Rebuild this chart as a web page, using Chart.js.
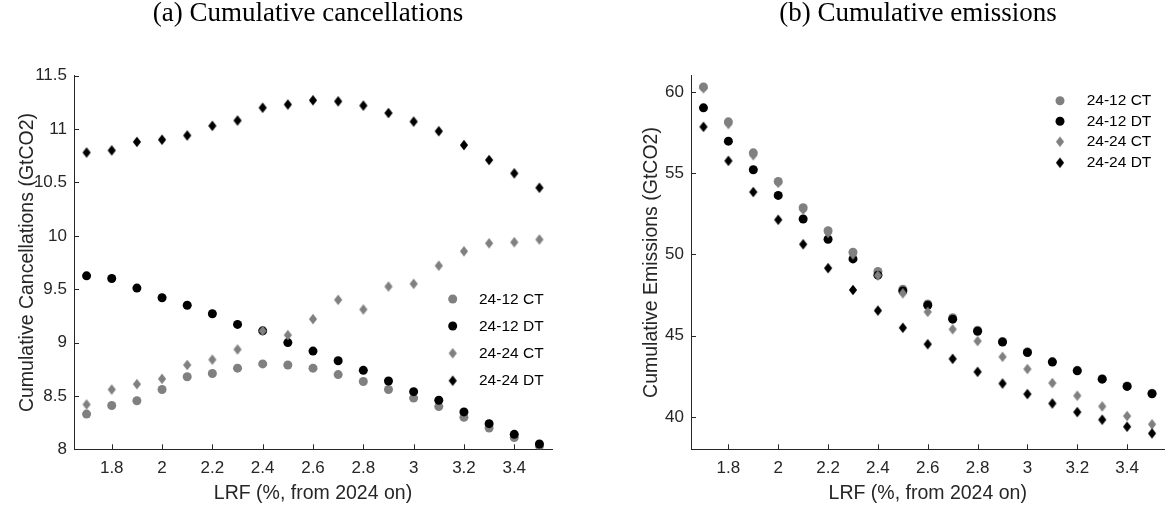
<!DOCTYPE html>
<html>
<head>
<meta charset="utf-8">
<script src="https://cdn.jsdelivr.net/npm/chart.js@4/dist/chart.umd.min.js"></script>
<style>
  body { margin: 0; background: #fff; }
  #wrap { position: relative; width: 1169px; height: 510px; }
  canvas { position: absolute; top: 0; }
</style>
</head>
<body>
<div id="wrap">
  <canvas id="left" width="620" height="510" style="left:0"></canvas>
  <canvas id="right" width="549" height="510" style="left:620px"></canvas>
</div>
<script>
// LRF values (%, from 2024 on)
const lrf = [1.7, 1.8, 1.9, 2.0, 2.1, 2.2, 2.3, 2.4, 2.5, 2.6, 2.7, 2.8, 2.9, 3.0, 3.1, 3.2, 3.3, 3.4, 3.5];
const seriesNames = ["24-12 CT", "24-12 DT", "24-24 CT", "24-24 DT"];

// (a) cumulative cancellations (GtCO2)
const cancCT12 = [8.33, 8.41, 8.455, 8.56, 8.68, 8.71, 8.76, 8.80, 8.79, 8.76, 8.70, 8.635, 8.56, 8.48, 8.40, 8.30, 8.20, 8.11, 8.03];
const cancDT12 = [9.625, 9.60, 9.51, 9.42, 9.35, 9.27, 9.17, 9.11, 9.00, 8.92, 8.83, 8.74, 8.64, 8.54, 8.46, 8.35, 8.24, 8.14, 8.05];
const cancCT24 = [8.42, 8.56, 8.61, 8.66, 8.79, 8.84, 8.935, 9.11, 9.07, 9.22, 9.40, 9.31, 9.525, 9.55, 9.72, 9.855, 9.93, 9.94, 9.965];
const cancDT24 = [10.78, 10.80, 10.88, 10.90, 10.94, 11.03, 11.08, 11.20, 11.23, 11.27, 11.26, 11.22, 11.15, 11.07, 10.98, 10.85, 10.71, 10.585, 10.45];

// (b) cumulative emissions (GtCO2)
const emisCT12 = [60.31, 58.16, 56.25, 54.49, 52.87, 51.46, 50.13, 48.95, 47.85, 46.95, 46.10, 45.33, 44.64, 44.00, 43.40, 42.86, 42.35, 41.90, 41.45];
const emisDT12 = [59.02, 56.97, 55.21, 53.63, 52.18, 50.93, 49.72, 48.72, 47.75, 46.87, 46.01, 45.27, 44.60, 43.96, 43.37, 42.83, 42.32, 41.87, 41.42];
const emisCT24 = [60.22, 58.02, 56.10, 54.40, 52.75, 51.32, 50.00, 48.70, 47.60, 46.46, 45.39, 44.66, 43.69, 42.94, 42.08, 41.30, 40.64, 40.05, 39.54];
const emisDT24 = [57.85, 55.76, 53.84, 52.13, 50.62, 49.15, 47.81, 46.54, 45.48, 44.47, 43.57, 42.77, 42.05, 41.40, 40.82, 40.29, 39.82, 39.39, 38.98];

// tick labels
const xTicks = [1.8, 2.0, 2.2, 2.4, 2.6, 2.8, 3.0, 3.2, 3.4];
const cancTicks = [8, 8.5, 9, 9.5, 10, 10.5, 11, 11.5];
const emisTicks = [40, 45, 50, 55, 60];

const GRAY = "#808080";
const BLACK = "#000000";
const AXIS = "#262626";
const SANS = "'Liberation Sans', Arial, sans-serif";

// MATLAB-like diamond marker (taller than wide)
function diamond(color) {
  const c = document.createElement("canvas");
  c.width = 10;
  c.height = 12;
  const g = c.getContext("2d");
  g.fillStyle = color;
  g.beginPath();
  g.moveTo(5, 0.7);
  g.lineTo(9.1, 6);
  g.lineTo(5, 11.3);
  g.lineTo(0.9, 6);
  g.closePath();
  g.fill();
  return c;
}
const dGray = diamond(GRAY);
const dBlack = diamond(BLACK);

function points(vals) {
  return lrf.map((x, i) => ({ x: x, y: vals[i] }));
}

function makeDatasets(ct12, dt12, ct24, dt24) {
  const styles = [
    { data: ct12, color: GRAY, style: "circle", order: 4 },
    { data: dt12, color: BLACK, style: "circle", order: 3 },
    { data: ct24, color: GRAY, style: dGray, order: 2 },
    { data: dt24, color: BLACK, style: dBlack, order: 1 }
  ];
  return styles.map((s, i) => ({
    label: seriesNames[i],
    data: points(s.data),
    backgroundColor: s.color,
    borderColor: s.color,
    borderWidth: 0,
    pointStyle: s.style,
    pointRadius: 4.5,
    pointHoverRadius: 4.5,
    showLine: false,
    order: s.order
  }));
}

// title, inward ticks, legend
const panelDecor = {
  id: "panelDecor",
  afterDraw(chart) {
    const o = chart.options.plugins.panelDecor;
    const ctx = chart.ctx;
    const area = chart.chartArea;
    ctx.save();
    // title
    ctx.fillStyle = "#000";
    ctx.font = "27px 'Liberation Serif', 'Times New Roman', serif";
    ctx.textAlign = "center";
    ctx.textBaseline = "alphabetic";
    ctx.fillText(o.title, o.titleX, 20.5);
    // inward tick marks
    ctx.strokeStyle = AXIS;
    ctx.lineWidth = 1;
    ctx.beginPath();
    chart.scales.x.ticks.forEach(t => {
      const px = Math.round(chart.scales.x.getPixelForValue(t.value)) + 0.5;
      ctx.moveTo(px, area.bottom);
      ctx.lineTo(px, area.bottom - 5);
    });
    chart.scales.y.ticks.forEach(t => {
      const py = Math.round(chart.scales.y.getPixelForValue(t.value)) + 0.5;
      ctx.moveTo(area.left, py);
      ctx.lineTo(area.left + 5, py);
    });
    ctx.stroke();
    // legend
    ctx.font = "15.5px " + SANS;
    ctx.textAlign = "left";
    ctx.textBaseline = "middle";
    chart.data.datasets.forEach((ds, i) => {
      const y = o.legendY[i];
      if (ds.pointStyle === "circle") {
        ctx.fillStyle = ds.backgroundColor;
        ctx.beginPath();
        ctx.arc(o.legendX, y, 4.5, 0, Math.PI * 2);
        ctx.fill();
      } else {
        const img = ds.pointStyle;
        ctx.drawImage(img, o.legendX - img.width / 2, y - img.height / 2);
      }
      ctx.fillStyle = "#000";
      ctx.fillText(ds.label, o.legendTextX, y + 0.5);
    });
    ctx.restore();
  }
};

function makeChart(id, datasets, yMin, yMax, yTicks, yTitle, yWidth, yTitlePad, padRight, decor) {
  return new Chart(document.getElementById(id), {
    type: "scatter",
    data: { datasets: datasets },
    plugins: [panelDecor],
    options: {
      responsive: false,
      devicePixelRatio: 1,
      animation: false,
      layout: { padding: { top: 75.7, right: padRight, bottom: 0, left: 0 } },
      plugins: {
        legend: { display: false },
        tooltip: { enabled: false },
        panelDecor: decor
      },
      scales: {
        x: {
          type: "linear",
          min: 1.65,
          max: 3.55,
          afterBuildTicks: s => { s.ticks = xTicks.map(v => ({ value: v })); },
          afterFit: s => { s.height = 60.7; },
          ticks: {
            color: AXIS,
            padding: 9,
            font: { family: SANS, size: 17 },
            callback: v => String(+v.toFixed(2))
          },
          grid: { drawOnChartArea: false, drawTicks: false },
          border: { display: true, color: AXIS, width: 1 },
          title: {
            display: true,
            text: "LRF (%, from 2024 on)",
            color: AXIS,
            font: { family: SANS, size: 19.5, lineHeight: 1.2 },
            padding: { top: 0, bottom: 5 }
          }
        },
        y: {
          type: "linear",
          min: yMin,
          max: yMax,
          afterBuildTicks: s => { s.ticks = yTicks.map(v => ({ value: v })); },
          afterFit: s => { s.width = yWidth; },
          ticks: {
            color: AXIS,
            padding: 7,
            font: { family: SANS, size: 17 },
            callback: v => String(+v.toFixed(2))
          },
          grid: { drawOnChartArea: false, drawTicks: false },
          border: { display: true, color: AXIS, width: 1 },
          title: {
            display: true,
            text: yTitle,
            color: AXIS,
            font: { family: SANS, size: 19.5, lineHeight: 1.2 },
            padding: { top: yTitlePad, bottom: 0 }
          }
        }
      }
    }
  });
}

makeChart("left", makeDatasets(cancCT12, cancDT12, cancCT24, cancDT24),
  8, 11.5, cancTicks, "Cumulative Cancellations (GtCO2)", 74, 16.3, 68,
  { title: "(a) Cumulative cancellations", titleX: 308,
    legendX: 452.7, legendTextX: 479, legendY: [299, 326, 353.3, 380.7] });

makeChart("right", makeDatasets(emisCT12, emisDT12, emisCT24, emisDT24),
  38, 61, emisTicks, "Cumulative Emissions (GtCO2)", 71, 20.3, 1,
  { title: "(b) Cumulative emissions", titleX: 298,
    legendX: 440, legendTextX: 466.7, legendY: [100.7, 121.3, 141.7, 162.7] });
</script>
</body>
</html>
